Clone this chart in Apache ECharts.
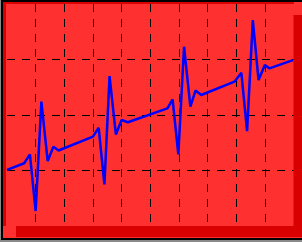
<!DOCTYPE html>
<html>
<head>
<meta charset="utf-8">
<script src="https://cdn.jsdelivr.net/npm/echarts@6/dist/echarts.min.js"></script>
<style>
html,body{margin:0;padding:0;background:#8a8a8a;width:302px;height:242px;overflow:hidden;}
#frame{position:absolute;left:1px;top:0;width:301px;height:240px;background:#000;}
#chart{position:absolute;left:3px;top:2px;width:299px;height:236px;}
</style>
</head>
<body>
<div id="frame"></div>
<div id="chart"></div>
<script>
var xValues = [0, 3.0, 4.0, 5.0, 6.0, 7.1, 8.1, 9.0, 15.0, 16.0, 17.0, 17.9, 19.0, 20.0, 21.1, 28.0, 28.9, 29.9, 30.9, 32.0, 32.9, 33.9, 39.7, 40.9, 41.9, 42.9, 43.9, 45.0, 45.8, 49.9];
var yValues = [1.01, 1.13, 1.29, 0.27, 2.24, 1.17, 1.43, 1.36, 1.61, 1.77, 0.75, 2.70, 1.65, 1.91, 1.87, 2.12, 2.28, 1.29, 3.23, 2.15, 2.44, 2.36, 2.60, 2.76, 1.71, 3.71, 2.63, 2.90, 2.84, 2.99];

var LIGHT = '#ff3030', DARK = '#d80000';
var chart = echarts.init(document.getElementById('chart'));
var pts = xValues.map(function (x, i) { return [x, yValues[i]]; });
chart.setOption({
  animation: false,
  backgroundColor: LIGHT,
  graphic: [
    { type: 'rect', z: -10, shape: { x: 0, y: 0, width: 3, height: 224 }, style: { fill: DARK } },
    { type: 'rect', z: -10, shape: { x: 0, y: 0, width: 291, height: 2 }, style: { fill: DARK } }
  ],
  grid: {
    show: true, left: 4, top: 2, right: 8.5, bottom: 12,
    backgroundColor: LIGHT, borderWidth: 0,
    shadowColor: DARK, shadowBlur: 0, shadowOffsetX: 9, shadowOffsetY: 11
  },
  xAxis: {
    type: 'value', min: 0, max: 50, interval: 5,
    axisLine: { show: false }, axisTick: { show: false }, axisLabel: { show: false },
    splitLine: { show: true, showMinLine: false, showMaxLine: false, lineStyle: { color: '#000', width: 1, type: [8, 7] } }
  },
  yAxis: {
    type: 'value', min: 0, max: 4, interval: 1,
    axisLine: { show: false }, axisTick: { show: false }, axisLabel: { show: false },
    splitLine: { show: true, showMinLine: false, showMaxLine: false, lineStyle: { color: '#000', width: 1, type: [8, 7] } }
  },
  series: [{
    type: 'line', data: pts, showSymbol: false, symbol: 'none',
    lineStyle: { color: '#0000ff', width: 2.5 }
  }]
});
</script>
</body>
</html>
